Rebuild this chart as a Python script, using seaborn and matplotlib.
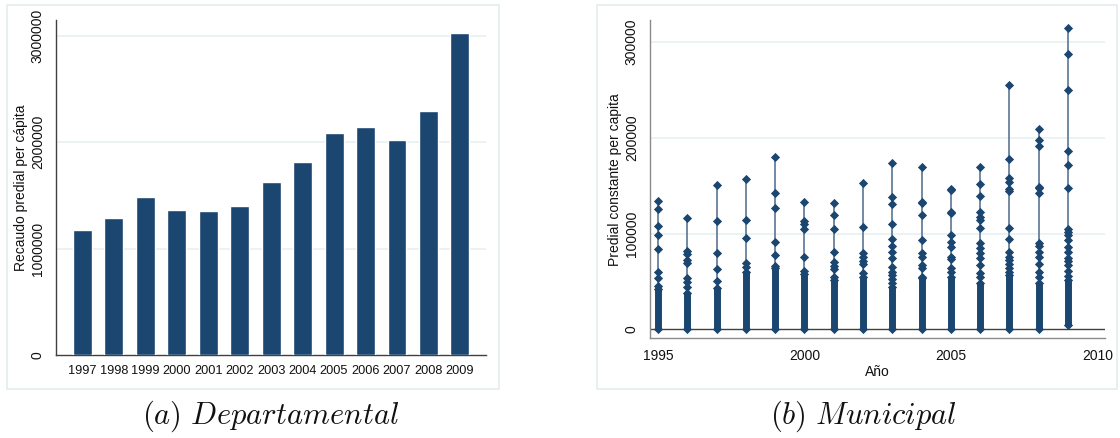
import numpy as np
import pandas as pd
import matplotlib
matplotlib.use("Agg")
import matplotlib.pyplot as plt
from matplotlib.patches import Rectangle
import seaborn as sns

# ---------------- data ----------------
# (a) departmental property-tax revenue per capita
dept_years = ["1997", "1998", "1999", "2000", "2001", "2002", "2003",
              "2004", "2005", "2006", "2007", "2008", "2009"]
dept_recaudo = [1177000, 1284000, 1487000, 1362000, 1356000, 1403000, 1622000,
                1810000, 2089000, 2145000, 2017000, 2292000, 3028000]

# (b) municipal property tax per capita (constant prices)
mun_years = [1995, 1996, 1997, 1998, 1999, 2000, 2001, 2002,
             2003, 2004, 2005, 2006, 2007, 2008, 2009]
# compact mass of municipalities per year (lower / upper value)
mun_dense_low = [0, 0, 0, 0, 0, 0, 0, 0, 0, 0, 0, 0, 0, 0, 4000]
mun_dense_high = [41800, 38000, 42800, 60000, 63700, 58000, 51500, 55000,
                  44600, 53300, 55000, 48100, 56800, 48100, 51500]
# individual municipalities above the compact mass
mun_1995 = [134100, 125400, 108000, 98600, 84300, 60300, 54000, 45600]
mun_1996 = [116700, 81900, 78400, 72400, 69000, 54000, 49800, 44600]
mun_1997 = [150800, 113200, 80100, 62700, 50900]
mun_1998 = [156700, 113900, 95800, 69700, 65500]
mun_1999 = [179700, 142800, 126400, 91600, 77300, 66200]
mun_2000 = [133400, 113200, 110100, 104500, 75300, 61000]
mun_2001 = [132400, 119800, 104500, 80500, 70700, 66200, 63000, 55000]
mun_2002 = [152600, 106600, 80100, 75900, 71700, 67900, 59200]
mun_2003 = [173500, 137900, 131000, 110100, 94400, 87400, 81200, 74900,
            65500, 59600, 56800, 52200, 48100]
mun_2004 = [170000, 133400, 132400, 119500, 93300, 80100, 75900, 67200,
            64400, 55000]
mun_2005 = [146600, 145600, 123000, 121900, 98600, 91600, 86400, 75900,
            73100, 63700, 60300]
mun_2006 = [170000, 151500, 139700, 123000, 117000, 114200, 105900, 89900,
            84600, 79400, 74200, 67200, 58500, 55000]
mun_2007 = [255500, 177600, 158500, 154300, 146300, 144900, 106300, 94100,
            81200, 75900, 72400, 68300, 63700, 60300]
mun_2008 = [209300, 197800, 191500, 149100, 148100, 142800, 89900, 87100,
            81200, 75300, 68300, 60300, 55000]
mun_2009 = [315200, 288000, 249700, 186300, 171700, 148000, 104500, 102000,
            98600, 93300, 86400, 81200, 74200, 71700, 67200, 61000, 55700]

mun_points = [mun_1995, mun_1996, mun_1997, mun_1998, mun_1999, mun_2000,
              mun_2001, mun_2002, mun_2003, mun_2004, mun_2005, mun_2006,
              mun_2007, mun_2008, mun_2009]

# ---------------- style ----------------
sns.set_theme(style="white")
plt.rcParams["font.family"] = ["Liberation Sans", "DejaVu Sans"]
plt.rcParams["mathtext.fontset"] = "cm"

NAVY = "#1b4670"
LINE = "#7189a3"
GRID = "#e6eff1"
FRAME = "#e4ecee"
AXIS = "#404040"
TXT = "#111111"
FS = 10
MS = 22

fig = plt.figure(figsize=(11.2, 4.38), dpi=100)

# light outline of each graph region
for x0, x1 in [(7, 499), (597, 1117)]:
    fig.add_artist(Rectangle((x0 / 1120, 1 - 389 / 438), (x1 - x0) / 1120,
                             (389 - 5) / 438, transform=fig.transFigure,
                             fill=False, edgecolor=FRAME, linewidth=1.2))

# ---------------- (a) Departamental ----------------
ax1 = fig.add_axes([56 / 1120, 1 - 355 / 438, 430 / 1120, 335 / 438])
sns.barplot(x=dept_years, y=dept_recaudo, color=NAVY, width=0.6,
            saturation=1, ax=ax1, zorder=3)
ax1.set_xlim(-0.84, 12.83)
ax1.set_ylim(0, 3147000)
ax1.set_yticks([0, 1000000, 2000000, 3000000])
ax1.set_yticklabels(["0", "1000000", "2000000", "3000000"], rotation=90,
                    va="center", fontsize=FS, color=TXT)
for lab in ax1.get_xticklabels():
    lab.set_fontsize(9.2)
    lab.set_color(TXT)
for y in [1000000, 2000000, 3000000]:
    ax1.axhline(y, color=GRID, linewidth=1.1, zorder=1)
ax1.set_ylabel("Recaudo predial per cápita", fontsize=FS, labelpad=2,
               color=TXT)
ax1.tick_params(axis="x", length=0, pad=7)
ax1.tick_params(axis="y", length=5, width=0.8, color=AXIS, pad=3)
for s in ["top", "right"]:
    ax1.spines[s].set_visible(False)
for s in ["left", "bottom"]:
    ax1.spines[s].set_color(AXIS)
    ax1.spines[s].set_linewidth(1.0)

# ---------------- (b) Municipal ----------------
ax2 = fig.add_axes([650 / 1120, 1 - 338.3 / 438, 455 / 1120, 318.3 / 438])
rows = [(yr, v) for yr, vals in zip(mun_years, mun_points) for v in vals]
df_pts = pd.DataFrame(rows, columns=["year", "value"])

tops = [max(v) for v in mun_points]
ax2.vlines(mun_years, mun_dense_low, tops, color=LINE, linewidth=1.4, zorder=2)
ax2.vlines(mun_years, mun_dense_low, mun_dense_high, color=NAVY,
           linewidth=5.0, zorder=3)
sns.scatterplot(data=df_pts, x="year", y="value", marker="D", s=MS,
                color=NAVY, linewidth=0, ax=ax2, zorder=4)
ax2.scatter(mun_years, mun_dense_low, marker="D", s=MS, color=NAVY,
            linewidth=0, zorder=4)
ax2.scatter(mun_years, mun_dense_high, marker="D", s=MS, color=NAVY,
            linewidth=0, zorder=4)

ax2.set_xlim(1994.73, 2010.26)
ax2.set_ylim(-9400, 323200)
for y in [100000, 200000, 300000]:
    ax2.axhline(y, color=GRID, linewidth=1.1, zorder=1)
ax2.axhline(0, color=AXIS, linewidth=1.0, zorder=1.5)
ax2.set_yticks([0, 100000, 200000, 300000])
ax2.set_yticklabels(["0", "100000", "200000", "300000"], rotation=90,
                    va="center", fontsize=FS, color=TXT)
ax2.set_xticks([1995, 2000, 2005, 2010])
ax2.set_xticklabels(["1995", "2000", "2005", "2010"], fontsize=FS, color=TXT)
ax2.set_xlabel("Año", fontsize=FS, labelpad=1, color=TXT)
ax2.set_ylabel("Predial constante per capita", fontsize=FS, labelpad=2,
               color=TXT)
ax2.tick_params(axis="both", length=5, width=0.8, color="#808080", pad=3)
for s in ["top", "right"]:
    ax2.spines[s].set_visible(False)
for s in ["left", "bottom"]:
    ax2.spines[s].set_color("#8a8a8a")
    ax2.spines[s].set_linewidth(1.0)

# ---------------- captions ----------------
fig.text(271 / 1120, 1 - 416 / 438, r"$\mathit{(a)\ Departamental}$",
         ha="center", va="center", fontsize=22, color=TXT)
fig.text(864 / 1120, 1 - 416 / 438, r"$\mathit{(b)\ Municipal}$",
         ha="center", va="center", fontsize=22, color=TXT)

fig.savefig("out.png", dpi=100, facecolor="white")
